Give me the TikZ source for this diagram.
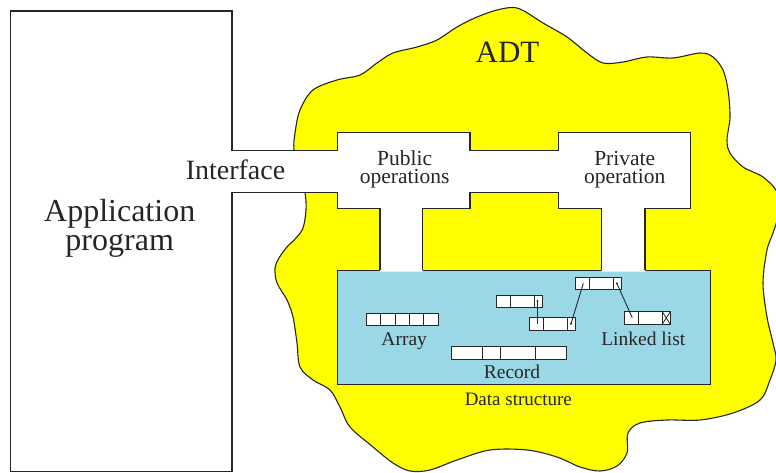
\documentclass[tikz,border=0pt]{standalone}
\usepackage{fontspec}
\setmainfont{Liberation Serif}
\usepackage{tikz}
\usetikzlibrary{calc}
\definecolor{adtyellow}{RGB}{255,255,0}
\definecolor{dsblue}{RGB}{155,216,231}
\tikzset{
  outline/.style={draw=black!85, line width=1.1pt},
  cell/.style={draw=black!85, line width=0.8pt},
  ptr/.style={black!85, line width=0.9pt},
  lbl/.style={anchor=base, inner sep=0pt, text=black!85},
  twoline/.style={inner sep=0pt, align=center, text=black!85}
}

\begin{document}
\begin{tikzpicture}[x=1pt, y=-1pt, line join=miter, font=\rmfamily]
\useasboundingbox (0,0) rectangle (776,473);
\newcommand{\cellh}{12.5}
% one node of the linked list: name, left, top
\newcommand{\listnode}[3]{%
  \draw[cell, fill=white] (#2,#3) rectangle ++(46,\cellh);
  \draw[cell] (#2+14,#3) -- ++(0,\cellh) (#2+38,#3) -- ++(0,\cellh);
  \coordinate (#1-in) at (#2+8,#3+6);
  \coordinate (#1-out) at (#2+41.5,#3+6);
}
% the ADT cloud
\filldraw[fill=adtyellow, outline] plot[smooth cycle, tension=0.55] coordinates {
  (299,172) (294,150) (295,133) (300,110) (313,90) (337,80) (360,75) (377,63)
  (393,53) (417,47) (437,40) (457,27) (477,17) (497,10) (513,7.5) (524,11)
  (543,23) (567,37) (587,53) (603,63) (623,62) (647,57) (673,58) (700,53)
  (713,57) (723,70) (728,90) (730,117) (727,140) (730,153) (743,167) (763,177)
  (777,192) (779,212) (773,233) (767,250) (763,283) (767,317) (773,343) (776,360)
  (770,380) (760,400) (733,413) (700,420) (667,420) (640,423) (628,433) (627,453)
  (617,466) (600,471) (580,467) (557,457) (527,450) (490,450) (457,460) (430,470)
  (410,471) (393,463) (373,447) (350,427) (340,407) (330,390) (313,380) (300,367)
  (297,343) (293,317) (287,300) (277,283) (275,268) (279,258) (287,247) (296,238)
  (303,228) (306,210) (305,193)};
% data structure box
\filldraw[fill=dsblue, outline] (337.3,270.3) rectangle (710.7,384.7);
% interface and operations
\fill[white] (232,150.7) -- (337.3,150.7) -- (337.3,132.5) -- (470,132.5) -- (470,150.7)
  -- (558.3,150.7) -- (558.3,132.5) -- (690.7,132.5) -- (690.7,208.3) -- (645,208.3)
  -- (645,271.5) -- (601.7,271.5) -- (601.7,208.3) -- (558.3,208.3) -- (558.3,192.7)
  -- (470,192.7) -- (470,208.3) -- (422.7,208.3) -- (422.7,271.5) -- (380,271.5)
  -- (380,208.3) -- (337.3,208.3) -- (337.3,192.7) -- (232,192.7) -- cycle;
\draw[outline] (232,150.7) -- (232,11) -- (10.7,11) -- (10.7,471.7) -- (232,471.7) -- (232,192.7)
  -- (337.3,192.7) -- (337.3,208.3) -- (380,208.3) -- (380,270.3);
\draw[outline] (232,150.7) -- (337.3,150.7) -- (337.3,132.5) -- (470,132.5) -- (470,150.7)
  -- (558.3,150.7) -- (558.3,132.5) -- (690.7,132.5) -- (690.7,208.3) -- (645,208.3)
  -- (645,270.3);
\draw[outline] (601.7,270.3) -- (601.7,208.3) -- (558.3,208.3) -- (558.3,192.7)
  -- (470,192.7) -- (470,208.3) -- (422.7,208.3) -- (422.7,270.3);
% array
\foreach \i in {0,...,4}
  \draw[cell, fill=white] (366+\i*14.47,313.3) rectangle ++(14.47,11.7);
% record
\draw[cell, fill=white] (451.7,346.7) rectangle (566,359.3);
\foreach \xx in {482.7,500.7,535}
  \draw[cell] (\xx,346.7) -- (\xx,359.3);
% linked list
\listnode{n1}{496}{295}
\listnode{n2}{529.5}{317.7}
\listnode{n3}{575.3}{277.3}
\listnode{n4}{624.3}{311.7}
\draw[cell] (624.3+38,311.7) -- ++(8,\cellh) (624.3+46,311.7) -- ++(-8,\cellh);
\foreach \a/\b in {n1/n2, n2/n3, n3/n4} {
  \fill[ptr] (\a-out) circle (1.1);
  \draw[ptr] (\a-out) -- (\b-in);
}
% texts
\node[lbl, font=\rmfamily\fontsize{31}{31}\selectfont] (adt) at (507.5,62.7) {ADT};
\node[lbl, font=\rmfamily\fontsize{28}{28}\selectfont] (iface) at (235.5,180) {Interface};
\node[twoline, font=\rmfamily\fontsize{32}{29}\selectfont] (app) at (119.7,228) {Application\\program};
\node[twoline, font=\rmfamily\fontsize{21.5}{18}\selectfont] (pub) at (404.7,169.5) {Public\\operations};
\node[twoline, font=\rmfamily\fontsize{21.5}{18}\selectfont] (priv) at (624.7,169.5) {Private\\operation};
\node[lbl, font=\rmfamily\fontsize{19.5}{19.5}\selectfont] (arr) at (404.2,345) {Array};
\node[lbl, font=\rmfamily\fontsize{19.5}{19.5}\selectfont] (ll) at (643.3,345) {Linked list};
\node[lbl, font=\rmfamily\fontsize{19.5}{19.5}\selectfont] (rec) at (512,378.3) {Record};
\node[lbl, font=\rmfamily\fontsize{19}{19}\selectfont] (ds) at (518.3,405) {Data structure};
\end{tikzpicture}
\end{document}
